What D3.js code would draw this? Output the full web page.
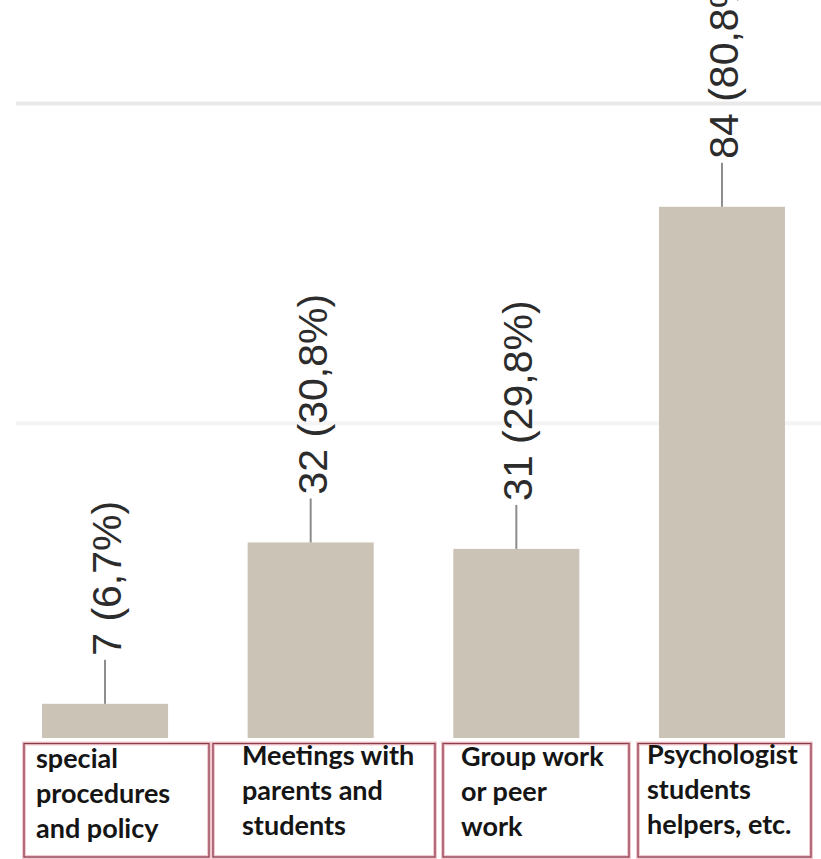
<!DOCTYPE html>
<html>
<head>
<meta charset="utf-8">
<script src="https://cdn.jsdelivr.net/npm/d3@7"></script>
<style>
  html, body { margin: 0; padding: 0; background: #ffffff; }
  svg { display: block; }
</style>
</head>
<body>
<svg id="chart" width="821" height="859"></svg>
<script>
// ---- data ----
const categories = ["special procedures and policy", "Meetings with parents and students", "Group work or peer work", "Psychologist students helpers, etc."];
const categoryLines = [
  ["special", "procedures", "and policy"],
  ["Meetings with", "parents and", "students"],
  ["Group work", "or peer", "work"],
  ["Psychologist", "students", "helpers, etc."]
];
const counts = [7, 32, 31, 84];
const percents = ["6,7%", "30,8%", "29,8%", "80,8%"];
const gridValues = [50, 100];

// ---- layout ----
const W = 821, H = 859;
const baseY = 749, topY = 103.5;
const boxLayout = [
  { x0: 24, x1: 209, pad: 12, dy: 0 },
  { x0: 213, x1: 435, pad: 29, dy: -3 },
  { x0: 443, x1: 629, pad: 18, dy: -2 },
  { x0: 638, x1: 811, pad: 9, dy: -4 }
];

const svg = d3.select("#chart");

const x = d3.scaleBand()
  .domain(categories)
  .range([42, 785])
  .paddingInner(0.387)
  .paddingOuter(0);

const y = d3.scaleLinear()
  .domain([0, 100])
  .range([baseY, topY]);

// gridlines
svg.append("g").selectAll("line")
  .data(gridValues)
  .join("line")
  .attr("x1", 16).attr("x2", W)
  .attr("y1", d => y(d) - (d === 50 ? 3 : 0)).attr("y2", d => y(d) - (d === 50 ? 3 : 0))
  .attr("stroke", d => d === 100 ? "#e9e9e9" : "#f4f4f4")
  .attr("stroke-width", 4);

// bars
svg.append("g").selectAll("rect")
  .data(categories)
  .join("rect")
  .attr("x", d => x(d))
  .attr("width", x.bandwidth())
  .attr("y", (d, i) => y(counts[i]))
  .attr("height", (d, i) => y(0) - y(counts[i]))
  .attr("fill", "#cbc4b6");

// leader lines
const leaderLen = 44;
svg.append("g").selectAll("line")
  .data(categories)
  .join("line")
  .attr("x1", d => x(d) + x.bandwidth() / 2)
  .attr("x2", d => x(d) + x.bandwidth() / 2)
  .attr("y1", (d, i) => y(counts[i]))
  .attr("y2", (d, i) => y(counts[i]) - leaderLen)
  .attr("stroke", "#8c8c8c")
  .attr("stroke-width", 2);

// value labels (rotated)
svg.append("g").selectAll("text")
  .data(categories)
  .join("text")
  .attr("transform", (d, i) => {
    const cx = x(d) + x.bandwidth() / 2 + 2;
    const cy = y(counts[i]) - leaderLen - 4;
    return `translate(${cx},${cy}) rotate(-90)`;
  })
  .attr("dominant-baseline", "central")
  .attr("text-anchor", "start")
  .attr("font-family", "Arial, 'Liberation Sans', sans-serif")
  .attr("font-size", 41)
  .attr("fill", "#2c2c2c")
  .text((d, i) => `${counts[i]} (${percents[i]})`);

// white strip covering bar bottoms above boxes
svg.append("rect")
  .attr("x", 0).attr("y", 738).attr("width", W).attr("height", H - 738)
  .attr("fill", "#ffffff");

// category boxes
const boxTop = 743.5, boxBottom = 857;
const boxes = svg.append("g").selectAll("g")
  .data(categories)
  .join("g");

boxes.append("rect")
  .attr("x", (d, i) => boxLayout[i].x0)
  .attr("y", boxTop)
  .attr("width", (d, i) => boxLayout[i].x1 - boxLayout[i].x0)
  .attr("height", boxBottom - boxTop)
  .attr("fill", "none")
  .attr("stroke", "#f3c9d0")
  .attr("stroke-width", 4);

boxes.append("rect")
  .attr("x", (d, i) => boxLayout[i].x0)
  .attr("y", boxTop)
  .attr("width", (d, i) => boxLayout[i].x1 - boxLayout[i].x0)
  .attr("height", boxBottom - boxTop)
  .attr("fill", "none")
  .attr("stroke", "#8e3c4c")
  .attr("stroke-width", 1.3);

boxes.each(function (d, i) {
  const g = d3.select(this);
  const t = g.append("text")
    .attr("font-family", "Lato, 'Open Sans', sans-serif")
    .attr("font-weight", 700)
    .attr("font-size", 27)
    .attr("fill", "#151515");
  categoryLines[i].forEach((line, j) => {
    t.append("tspan")
      .attr("x", boxLayout[i].x0 + boxLayout[i].pad)
      .attr("y", 768 + boxLayout[i].dy + j * 35)
      .text(line);
  });
});
</script>
</body>
</html>
